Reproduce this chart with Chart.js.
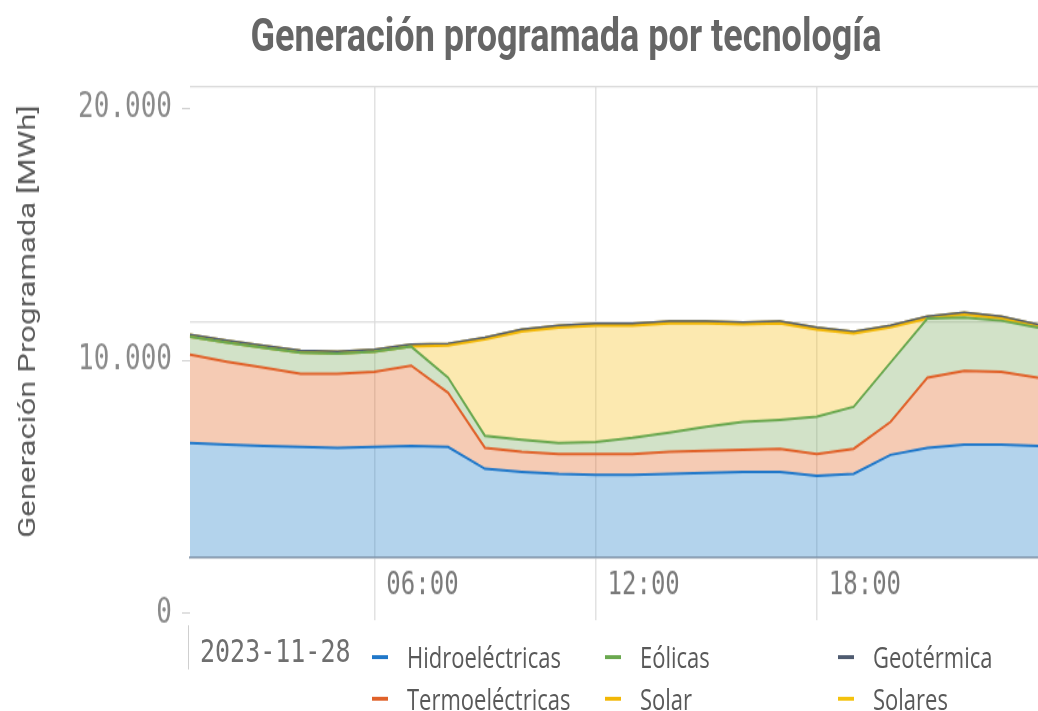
<!DOCTYPE html>
<html>
<head>
<meta charset="utf-8">
<script src="https://cdn.jsdelivr.net/npm/chart.js"></script>
<style>
  html, body { margin: 0; padding: 0; background: #fff; overflow: hidden; }
  /* la captura original esta estirada en vertical: se dibuja a 547px y se escala */
  #stage { position: absolute; left: 0; top: 0; width: 1038px; height: 547px; transform: scaleY(1.3); transform-origin: 0 0; }
  #genChart { position: absolute; left: 0; top: 0; }
  #titulo { position: absolute; left: 0; top: 6px; width: 1132px; text-align: center; font: bold 36px Roboto, sans-serif; line-height: 42px; color: #666; }
  #fecha { position: absolute; left: 200px; top: 486px; font: 25px "DejaVu Sans Mono", monospace; line-height: 30px; color: #6f6f6f; }
  #separador { position: absolute; left: 188px; top: 481px; height: 34px; border-left: 1px solid #cfcfcf; }
  #leyenda { position: absolute; left: 372px; top: 489px; display: grid; grid-template-rows: 32px 32px; grid-auto-flow: column; grid-auto-columns: 233px; }
  .item { display: flex; align-items: center; font: 22px "Open Sans", sans-serif; color: #595959; white-space: nowrap; }
  .marca { display: inline-block; width: 16px; height: 3px; margin-right: 19px; }
</style>
</head>
<body>
<div id="stage">
  <canvas id="genChart" width="1038" height="547"></canvas>
  <div id="titulo">Generación programada por tecnología</div>
  <div id="separador"></div>
  <div id="fecha">2023-11-28</div>
  <div id="leyenda"></div>
</div>
<script>
const horas = ['01:00', '02:00', '03:00', '04:00', '05:00', '06:00', '07:00', '08:00', '09:00', '10:00', '11:00', '12:00',
               '13:00', '14:00', '15:00', '16:00', '17:00', '18:00', '19:00', '20:00', '21:00', '22:00', '23:00', '24:00'];
const horasVisibles = ['06:00', '12:00', '18:00'];
const yTicks = [0, 10000, 20000];

// MWh por hora
const hidroelectricas = [4850, 4770, 4720, 4680, 4640, 4680, 4720, 4680, 3750, 3620, 3530, 3490,
                         3490, 3530, 3570, 3620, 3620, 3450, 3530, 4340, 4640, 4770, 4770, 4720];
const termoelectricas = [3750, 3530, 3320, 3110, 3150, 3190, 3410, 2300, 890, 850, 850, 890,
                         890, 940, 940, 930, 980, 930, 1070, 1400, 2980, 3140, 3100, 2900];
const eolicas = [760, 810, 850, 890, 850, 850, 810, 640, 510, 510, 470, 510,
                 680, 810, 1020, 1190, 1230, 1580, 1780, 2520, 2510, 2260, 2170, 2120];
const solar = [0, 0, 0, 0, 0, 0, 0, 1360, 4090, 4600, 4900, 4940,
               4770, 4640, 4390, 4140, 4090, 3700, 3110, 1490, 0, 130, 90, 50];
const geotermica = [80, 80, 80, 80, 80, 80, 80, 80, 80, 80, 80, 80,
                    80, 80, 80, 80, 80, 80, 80, 80, 80, 80, 80, 80];
const solares = [0, 0, 0, 0, 0, 0, 0, 0, 0, 0, 0, 0,
                 0, 0, 0, 0, 0, 0, 0, 0, 0, 0, 0, 0];

const series = [
  { nombre: 'Hidroeléctricas', datos: hidroelectricas, linea: '#1f77c9', relleno: 'rgba(38, 129, 201, 0.35)' },
  { nombre: 'Termoeléctricas', datos: termoelectricas, linea: '#e0622a', relleno: 'rgba(226, 106, 41, 0.35)' },
  { nombre: 'Eólicas', datos: eolicas, linea: '#6aa84f', relleno: 'rgba(126, 172, 98, 0.35)' },
  { nombre: 'Solar', datos: solar, linea: '#f2b705', relleno: 'rgba(246, 192, 29, 0.35)' },
  { nombre: 'Geotérmica', datos: geotermica, linea: '#4f5b70', relleno: 'rgba(79, 91, 112, 0.35)' },
  { nombre: 'Solares', datos: solares, linea: '#f4c20d', relleno: 'rgba(244, 194, 13, 0.35)' }
];

function miles(v) {
  return String(v).replace(/\B(?=(\d{3})+(?!\d))/g, '.');
}

// Leyenda
const leyenda = document.getElementById('leyenda');
series.forEach(s => {
  const item = document.createElement('div');
  item.className = 'item';
  item.innerHTML = `<span class="marca" style="background:${s.linea}"></span>${s.nombre}`;
  leyenda.appendChild(item);
});

const ctx = document.getElementById('genChart').getContext('2d');
const chart = new Chart(ctx, {
  type: 'line',
  data: {
    labels: horas,
    datasets: series.map((s, i) => ({
      label: s.nombre,
      data: s.datos,
      borderColor: s.linea,
      backgroundColor: s.relleno,
      borderWidth: 2,
      pointRadius: 0,
      tension: 0,
      fill: i === 0 ? 'origin' : '-1'
    }))
  },
  options: {
    responsive: false,
    animation: false,
    devicePixelRatio: 1,
    layout: { padding: { top: 66.2, left: 0, right: 0, bottom: 0 } },
    plugins: {
      legend: { display: false },
      title: { display: false },
      tooltip: { enabled: false }
    },
    scales: {
      x: {
        grid: {
          color: c => horasVisibles.includes(horas[c.index]) ? '#e2e2e2' : 'rgba(0,0,0,0)',
          lineWidth: 1.5,
          tickLength: 48.5
        },
        border: { display: true, color: '#8093a8', width: 1.5 },
        ticks: {
          autoSkip: false,
          maxRotation: 0,
          align: 'start',
          labelOffset: 12,
          padding: -41,
          color: '#7a7a7a',
          font: { family: 'DejaVu Sans Mono', size: 24 },
          callback: (v, i) => horasVisibles.includes(horas[i]) ? horas[i] : ''
        },
        afterFit: s => { s.height = 118.5; }
      },
      y: {
        stacked: true,
        min: 0,
        max: 20000,
        grid: {
          color: c => c.tick.value === 0 ? 'rgba(0,0,0,0)' : '#dcdcdc',
          lineWidth: 1.2,
          drawTicks: false
        },
        border: { display: false },
        ticks: { display: false, stepSize: 10000 },
        afterFit: s => { s.width = 0; }
      },
      // eje de etiquetas, desplazado respecto a las lineas de grilla como en la imagen
      yEtiquetas: {
        type: 'linear',
        position: 'left',
        min: 2230,
        max: 20900,
        afterBuildTicks: s => { s.ticks = yTicks.map(v => ({ value: v })); },
        grid: { drawOnChartArea: false, tickLength: 8, color: '#cfcfcf' },
        border: { display: false },
        ticks: {
          padding: 10,
          color: '#8a8a8a',
          font: { family: 'DejaVu Sans Mono', size: 26 },
          callback: v => miles(v)
        },
        title: {
          display: true,
          text: 'Generación Programada [MWh]',
          color: '#595959',
          font: { family: 'Roboto', size: 24 },
          padding: { top: 15, bottom: 0 }
        },
        afterFit: s => { s.width = 190; }
      }
    }
  }
});
</script>
</body>
</html>
